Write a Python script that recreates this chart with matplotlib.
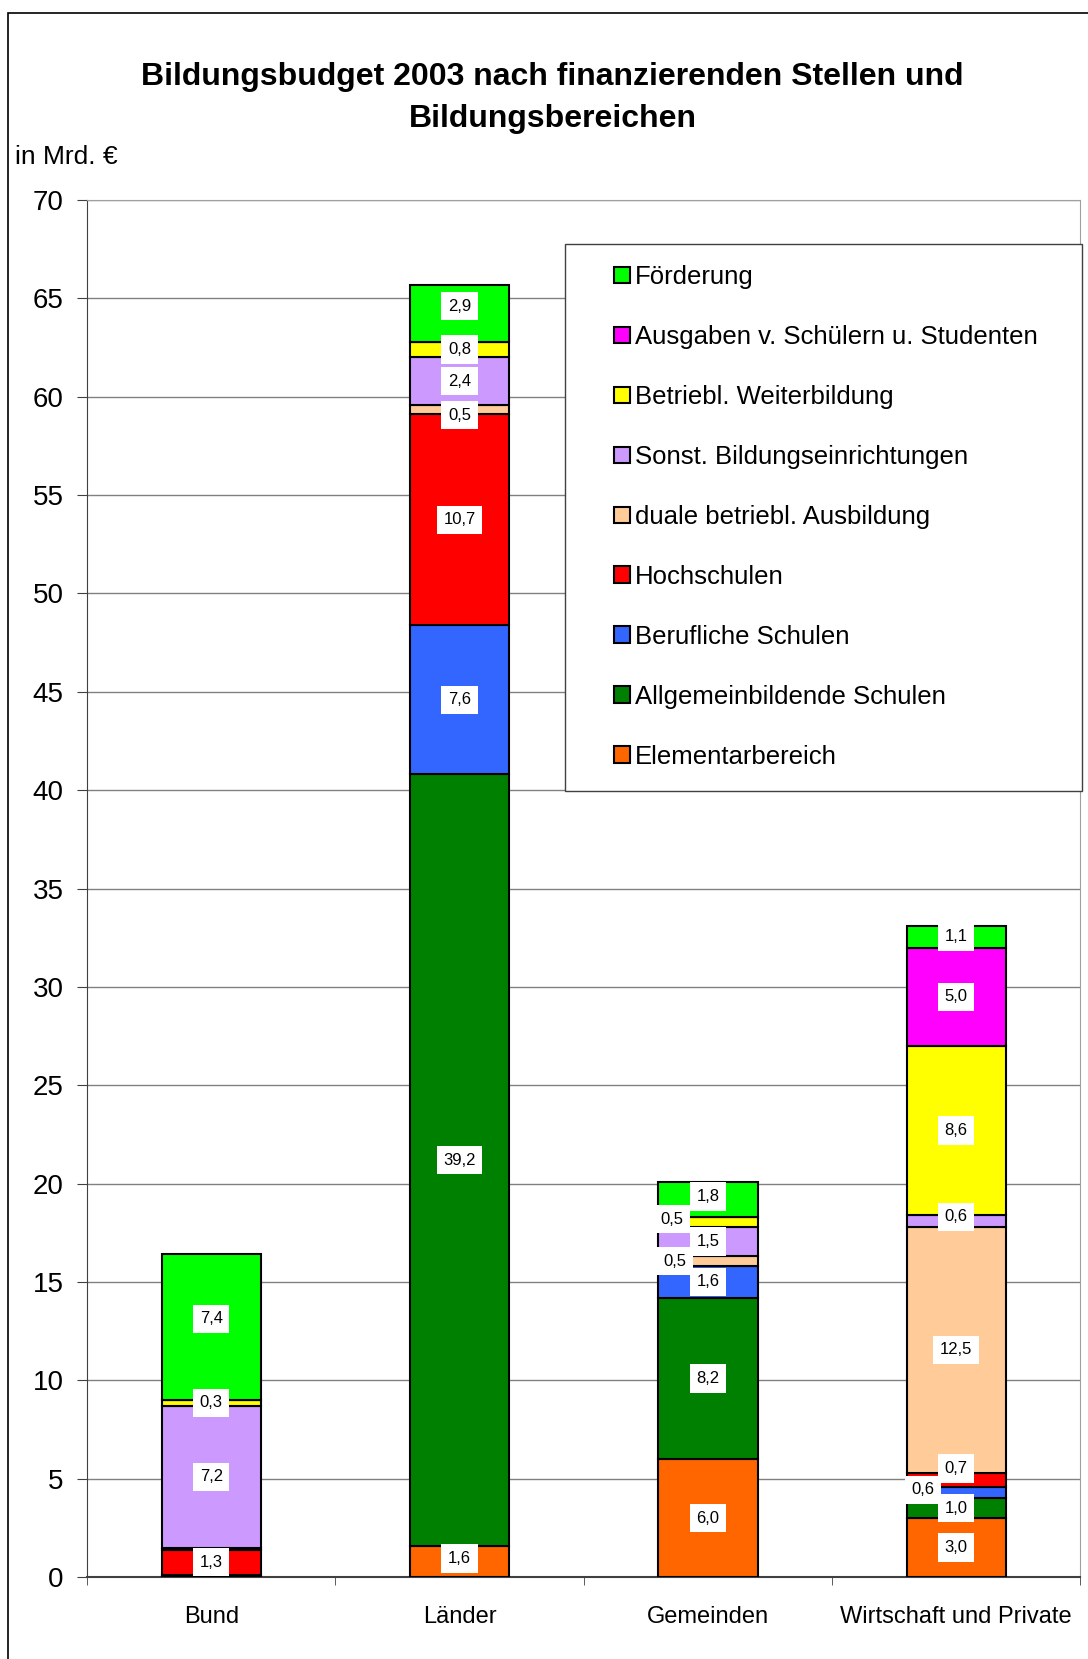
import numpy as np
import matplotlib.pyplot as plt
from matplotlib.patches import Rectangle

plt.rcParams['font.family'] = ['Liberation Sans', 'DejaVu Sans']

# Finanzierende Stellen
categories = ['Bund', 'Länder', 'Gemeinden', 'Wirtschaft und Private']

# Bildungsbereiche, von unten nach oben gestapelt
series = ['Elementarbereich', 'Allgemeinbildende Schulen', 'Berufliche Schulen',
          'Hochschulen', 'duale betriebl. Ausbildung', 'Sonst. Bildungseinrichtungen',
          'Betriebl. Weiterbildung', 'Ausgaben v. Schülern u. Studenten', 'Förderung']

elementar = [0.0, 1.6, 6.0, 3.0]
allgemein = [0.1, 39.2, 8.2, 1.0]
beruflich = [0.0, 7.6, 1.6, 0.6]
hochschulen = [1.3, 10.7, 0.0, 0.7]
duale = [0.1, 0.5, 0.5, 12.5]
sonstige = [7.2, 2.4, 1.5, 0.6]
weiterbildung = [0.3, 0.8, 0.5, 8.6]
ausgaben = [0.0, 0.0, 0.0, 5.0]
foerderung = [7.4, 2.9, 1.8, 1.1]

values = [elementar, allgemein, beruflich, hochschulen, duale,
          sonstige, weiterbildung, ausgaben, foerderung]
colors = ['#FF6600', '#008000', '#3366FF', '#FF0000', '#FFCC99',
          '#CC99FF', '#FFFF00', '#FF00FF', '#00FF00']

# label shifts (points) where Excel moved labels to avoid overlaps
label_shift = {(2, 4): (-24, 0), (2, 6): (-26, 2), (3, 2): (-24, 2), (3, 3): (0, 8),
               (1, 8): (0, 5), (1, 4): (0, -4), (0, 8): (0, 6), (3, 5): (0, 3),
               (2, 8): (0, 2), (1, 0): (0, 2)}

fig = plt.figure(figsize=(10.88, 16.59), dpi=100)
ax = fig.add_axes([0.080, 0.0494, 0.913, 0.830])

x = np.arange(len(categories)) + 0.5
bottom = np.zeros(len(categories))
handles = []
for i, (name, vals, col) in enumerate(zip(series, values, colors)):
    vals = np.array(vals)
    bars = ax.bar(x, vals, width=0.40, bottom=bottom, color=col,
                  edgecolor='black', linewidth=1.5, label=name, zorder=3)
    handles.append(bars)
    for j, v in enumerate(vals):
        if v < 0.25:
            continue
        dx, dy = label_shift.get((j, i), (0, 0))
        ax.annotate(f'{v:.1f}'.replace('.', ','), (x[j], bottom[j] + v / 2),
                    xytext=(dx, dy), textcoords='offset points',
                    ha='center', va='center', fontsize=12, zorder=5,
                    bbox=dict(boxstyle='square,pad=0.4', fc='white', ec='none'))
    bottom += vals

ax.set_xlim(0, 4)
ax.set_ylim(0, 70)
ax.set_yticks(np.arange(0, 71, 5))
ax.tick_params(axis='y', labelsize=20, length=7, direction='out', color='#404040', pad=10)
ax.set_xticks(x)
ax.set_xticklabels(categories, fontsize=17)
ax.set_xticks(np.arange(0, 5), minor=True)
ax.tick_params(axis='x', which='major', length=0, pad=20.5)
ax.tick_params(axis='x', which='minor', length=6, direction='out', color='#404040')
ax.yaxis.grid(True, color='#808080', linewidth=1, zorder=0)
for side in ['top', 'right']:
    ax.spines[side].set_color('#a0a0a0')
ax.spines['left'].set_color('#404040')
ax.spines['bottom'].set_color('#404040')
ax.spines['bottom'].set_linewidth(1.5)

# legend frame drawn separately (Excel leaves a wide left margin)
ax.add_patch(Rectangle((565 / 1088, 1 - 791 / 1659), 517 / 1088, 547 / 1659,
                       transform=fig.transFigure, facecolor='white',
                       edgecolor='#404040', linewidth=1, zorder=4, clip_on=False))
leg = ax.legend(handles[::-1], series[::-1], loc='upper left',
                bbox_to_anchor=(614 / 1088, 1 - 265 / 1659),
                bbox_transform=fig.transFigure, fontsize=18.5, frameon=False,
                handlelength=0.62, handleheight=0.62, handletextpad=0.2,
                labelspacing=1.40, borderpad=0, borderaxespad=0)
leg.set_zorder(6)

fig.text(0.508, 0.9408, 'Bildungsbudget 2003 nach finanzierenden Stellen und\nBildungsbereichen',
         ha='center', va='center', fontsize=23, fontweight='bold', linespacing=1.5)
fig.text(0.014, 0.9056, 'in Mrd. €', fontsize=19, va='center')

fig.patches.append(Rectangle((8 / 1088, -0.01), 1.0, 1 - 13 / 1659 + 0.01,
                             transform=fig.transFigure, fill=False,
                             edgecolor='black', linewidth=1.2))

fig.savefig('out.png', dpi=100)
